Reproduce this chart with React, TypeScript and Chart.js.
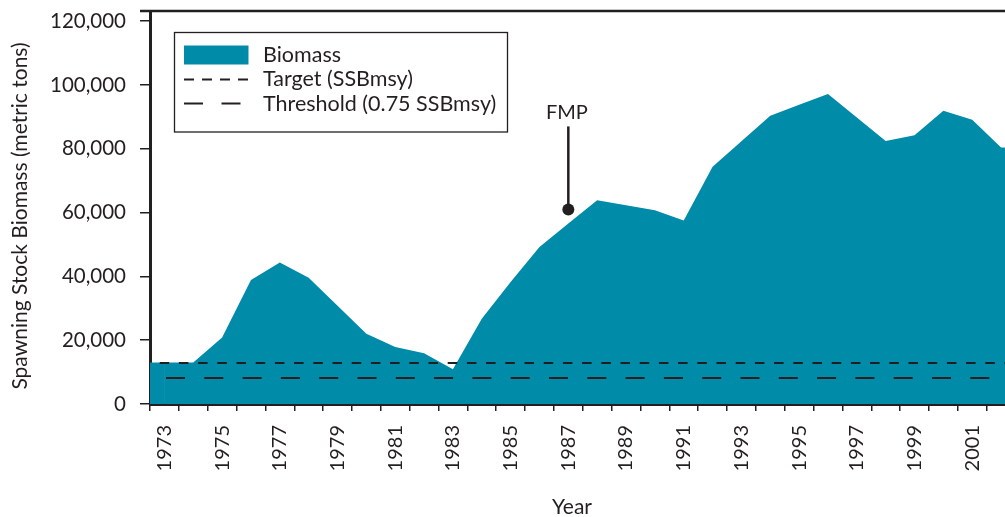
import React, { useEffect, useRef } from 'react';
import { Chart, registerables } from 'chart.js';

Chart.register(...registerables);

// ---------- data ----------
const years: number[] = [
  1973, 1974, 1975, 1976, 1977, 1978, 1979, 1980, 1981, 1982,
  1983, 1984, 1985, 1986, 1987, 1988, 1989, 1990, 1991, 1992,
  1993, 1994, 1995, 1996, 1997, 1998, 1999, 2000, 2001, 2002,
];
const biomass: number[] = [
  13000, 13000, 20850, 38900, 44350, 39600, 30800, 22000, 17900, 15900,
  10870, 26750, 38250, 49200, 56550, 63900, 62300, 60700, 57500, 74400,
  82400, 90350, 93800, 97200, 89800, 82450, 84250, 91900, 89100, 80400,
];
const targetValue = 13000;
const thresholdValue = 8100;
const yTicks: number[] = [0, 20000, 40000, 60000, 80000, 100000, 120000];
const yMax = 123200;
const legendLabels: string[] = ['Biomass', 'Target (SSBmsy)', 'Threshold (0.75 SSBmsy)'];
const yTitle = 'Spawning Stock Biomass (metric tons)';
const xTitle = 'Year';
const fmpYear = 1987;
const fmpValue = 61000;
const fmpLabel = 'FMP';

// ---------- style ----------
const FONT = 'Lato, "Open Sans", sans-serif';
const INK = '#231f20';
const TEAL = '#008ba8';
const TARGET_DASH = [9.5, 9.7];
const THRESH_DASH = [19, 19.3];

const edgeFillPlugin = {
  id: 'edgeFill',
  beforeDatasetsDraw(chart: any) {
    const pts = chart.getDatasetMeta(0).data;
    if (!pts.length) return;
    const { ctx, chartArea } = chart;
    const y0 = chart.scales.y.getPixelForValue(0);
    const first = pts[0];
    const last = pts[pts.length - 1];
    ctx.save();
    ctx.fillStyle = TEAL;
    ctx.fillRect(chartArea.left, first.y, first.x - chartArea.left + 0.5, y0 - first.y);
    ctx.fillRect(last.x - 0.5, last.y, chartArea.right - last.x + 0.5, y0 - last.y);
    ctx.restore();
  },
};

const overlayPlugin = {
  id: 'overlay',
  afterDatasetsDraw(chart: any) {
    const { ctx, chartArea } = chart;
    const ys = chart.scales.y;
    const xs = chart.scales.x;
    ctx.save();
    ctx.strokeStyle = INK;
    ctx.lineWidth = 2;
    // target
    ctx.setLineDash(TARGET_DASH);
    ctx.lineDashOffset = 9.5;
    let y = Math.round(ys.getPixelForValue(targetValue));
    ctx.beginPath();
    ctx.moveTo(chartArea.left, y);
    ctx.lineTo(chartArea.right, y);
    ctx.stroke();
    // threshold
    ctx.setLineDash(THRESH_DASH);
    ctx.lineDashOffset = 22.3;
    y = Math.round(ys.getPixelForValue(thresholdValue));
    ctx.beginPath();
    ctx.moveTo(chartArea.left, y);
    ctx.lineTo(chartArea.right, y);
    ctx.stroke();
    ctx.setLineDash([]);
    // FMP annotation
    const fx = xs.getPixelForValue(years.indexOf(fmpYear));
    const fy = ys.getPixelForValue(fmpValue);
    ctx.lineWidth = 2.5;
    ctx.beginPath();
    ctx.moveTo(fx, fy);
    ctx.lineTo(fx, fy - 83);
    ctx.stroke();
    ctx.fillStyle = INK;
    ctx.beginPath();
    ctx.arc(fx, fy, 6, 0, Math.PI * 2);
    ctx.fill();
    ctx.font = `20px ${FONT}`;
    ctx.textAlign = 'center';
    ctx.textBaseline = 'middle';
    ctx.fillText(fmpLabel, fx - 1.5, fy - 97);
    ctx.restore();
  },
  afterDraw(chart: any) {
    const { ctx, chartArea } = chart;
    ctx.save();
    // top frame line
    ctx.strokeStyle = INK;
    ctx.lineWidth = 2.5;
    ctx.beginPath();
    ctx.moveTo(chartArea.left - 10, chartArea.top);
    ctx.lineTo(chartArea.right, chartArea.top);
    ctx.stroke();

    // legend
    ctx.lineWidth = 1.3;
    ctx.strokeRect(174.5, 32.5, 333, 99.5);
    ctx.fillStyle = TEAL;
    ctx.fillRect(184, 45.5, 64.5, 19);
    ctx.lineWidth = 2;
    ctx.setLineDash([10, 8]);
    ctx.beginPath();
    ctx.moveTo(184, 79.5);
    ctx.lineTo(249, 79.5);
    ctx.stroke();
    ctx.setLineDash([19, 18.5]);
    ctx.beginPath();
    ctx.moveTo(184, 103.5);
    ctx.lineTo(241, 103.5);
    ctx.stroke();
    ctx.setLineDash([]);
    ctx.fillStyle = INK;
    ctx.font = `21.5px ${FONT}`;
    ctx.textAlign = 'left';
    ctx.textBaseline = 'middle';
    const rows = [55, 79.5, 104];
    legendLabels.forEach((t, i) => ctx.fillText(t, 263, rows[i]));

    // axis titles
    ctx.font = `21px ${FONT}`;
    ctx.textAlign = 'center';
    ctx.fillText(xTitle, 572, 507);
    ctx.translate(20, 216);
    ctx.rotate(-Math.PI / 2);
    ctx.fillText(yTitle, 0, 0);
    ctx.restore();
  },
};

export default function App() {
  const ref = useRef<HTMLCanvasElement>(null);
  useEffect(() => {
    let chart: Chart | null = null;
    let cancelled = false;
    const make = () => {
      if (cancelled || !ref.current) return;
      chart = new Chart(ref.current, {
        type: 'line',
        data: {
          labels: years.map(String),
          datasets: [
            {
              label: legendLabels[0],
              data: biomass,
              fill: 'origin',
              backgroundColor: TEAL,
              borderColor: TEAL,
              borderWidth: 0,
              pointRadius: 0,
              tension: 0,
            },
          ],
        },
        options: {
          responsive: false,
          animation: false,
          events: [],
          layout: { padding: { top: 11, right: 4.5, left: 0, bottom: 0 } },
          plugins: { legend: { display: false }, tooltip: { enabled: false } },
          scales: {
            x: {
              type: 'category',
              offset: true,
              z: 1,
              grid: { offset: true, drawOnChartArea: false, drawTicks: true, tickLength: 7, color: INK, lineWidth: 1.5 },
              border: { display: true, color: INK, width: 3 },
              ticks: {
                autoSkip: false,
                minRotation: 90,
                maxRotation: 90,
                padding: 14,
                color: INK,
                font: { family: FONT, size: 20 },
                callback: (_v: any, i: number) => (i % 2 === 0 ? String(years[i]) : ''),
              },
              afterFit: (s: any) => {
                s.height = 113;
                s.paddingLeft = 0;
                s.paddingRight = 0;
              },
            },
            y: {
              min: 0,
              max: yMax,
              z: 1,
              afterBuildTicks: (s: any) => { s.ticks = yTicks.map((v) => ({ value: v })); },
              grid: { drawOnChartArea: false, drawTicks: true, tickLength: 10, color: INK, lineWidth: 1.5 },
              border: { display: true, color: INK, width: 3 },
              ticks: {
                padding: 14,
                color: INK,
                font: { family: FONT, size: 20.5 },
                callback: (v: any) => Number(v).toLocaleString('en-US'),
              },
              afterFit: (s: any) => {
                s.width = 150;
                s.paddingTop = 0;
                s.paddingBottom = 0;
              },
            },
          },
        },
        plugins: [edgeFillPlugin, overlayPlugin],
      } as any);
    };
    const fonts = (document as any).fonts;
    if (fonts && fonts.load) {
      fonts.load(`20px Lato`).then(make, make);
    } else {
      make();
    }
    return () => {
      cancelled = true;
      if (chart) chart.destroy();
    };
  }, []);
  return (
    <div style={{ position: 'absolute', left: 0, top: 0, width: 1005, height: 517, overflow: 'hidden', background: '#fff' }}>
      <div style={{ position: 'relative', width: 1020, height: 517 }}>
        <canvas ref={ref} width={1020} height={517} style={{ display: 'block', width: 1020, height: 517 }} />
      </div>
    </div>
  );
}
